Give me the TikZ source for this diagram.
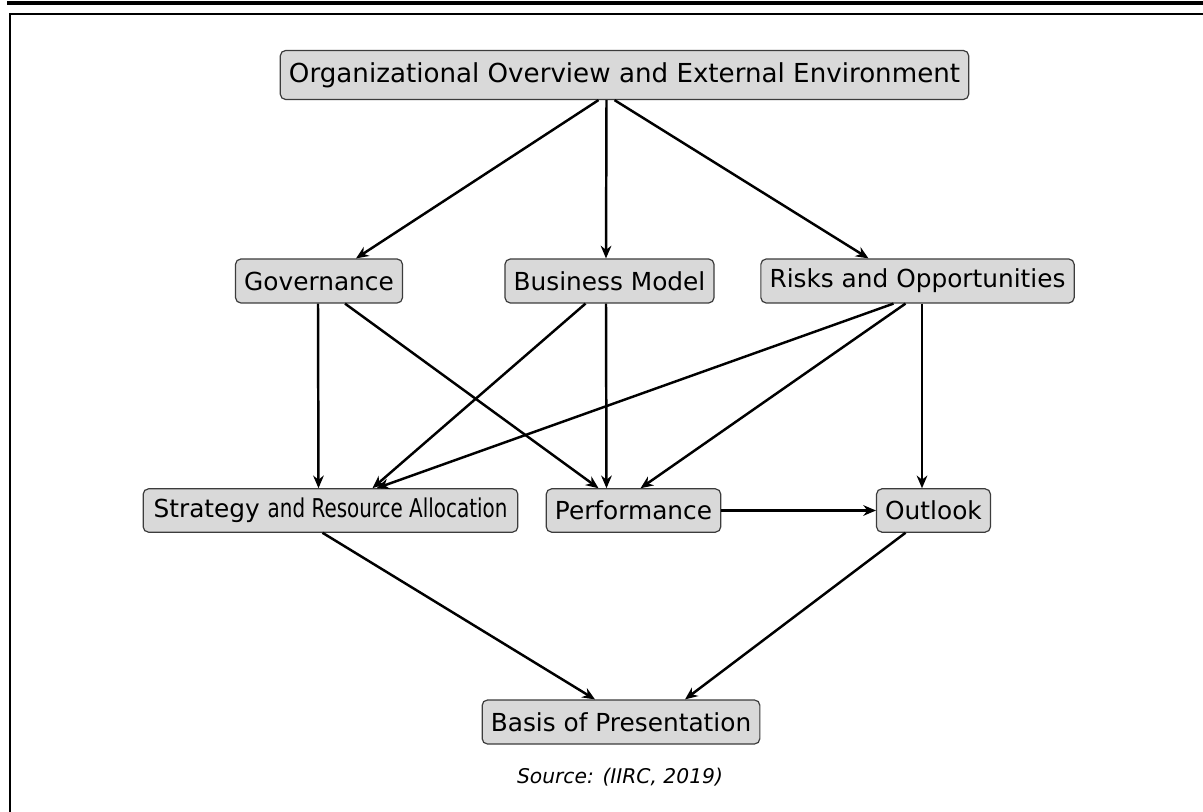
\documentclass[tikz,border=0pt]{standalone}
\usepackage{fontspec}
\setmainfont{DejaVu Sans}
\newfontfamily\condfont{DejaVu Sans}[FakeStretch=0.77]
\usetikzlibrary{arrows.meta,calc}

\definecolor{boxfill}{RGB}{217,217,217}
\definecolor{boxline}{RGB}{60,60,60}

\tikzset{
  topic/.style={draw=boxline, line width=0.9pt, fill=boxfill, rounded corners=4pt,
    inner xsep=6.5pt, inner ysep=0pt, minimum height=33pt, font=\fontsize{18.6}{22}\selectfont},
  arr/.style={line width=1.85pt, -{Stealth[length=9.5pt,width=8pt]}},
  frame/.style={line width=1.6pt, line cap=rect}
}

\begin{document}
\begin{tikzpicture}[x=0.75pt,y=-0.75pt]
  \useasboundingbox (0,0) rectangle (1203,812);
  \fill[white] (0,0) rectangle (1203,812);

  % page rules
  \fill[black] (7,1) rectangle (1203,5);
  \draw[frame] (1203,14) -- (10,14) -- (10,812);

  % topic boxes
  \node[topic, minimum height=36.75pt, font=\fontsize{19.6}{23}\selectfont] (org) at (624.5,75)
    {Organizational Overview and External Environment};
  \node[topic] (gov) at (319,281) {Governance};
  \node[topic] (bm)  at (609.5,281) {Business Model};
  \node[topic] (risk) at (917.5,281) {Risks and Opportunities};
  \node[topic, minimum height=32.5pt, minimum width=281pt, inner xsep=4pt] (strat) at (330.5,510.5)
    {Strategy {\condfont\fontsize{19.4}{22}\selectfont and Resource Allocation}};
  \node[topic, minimum height=32.5pt] (perf) at (633.5,510.5) {Performance};
  \node[topic, minimum height=32.5pt] (out) at (933.5,510.5) {Outlook};
  \node[topic] (basis) at (621,722) {Basis of Presentation};

  \node[font=\itshape\fontsize{15.2}{18}\selectfont] (src) at (620,777) {Source: (IIRC, 2019)};

  % connectors
  \draw[arr] ($(org.south)+(-26,0)$) -- ($(gov.north)+(37,0)$);
  \draw[arr] ($(org.south)+(-18,0)$) -- ($(bm.north)+(-3.5,0)$);
  \draw[arr] ($(org.south)+(-10,0)$) -- ($(risk.north)+(-49,0)$);

  \draw[arr] ($(gov.south)+(-1,0)$) -- ($(strat.north)+(-12,0)$);
  \draw[arr] ($(gov.south)+(26,0)$) -- ($(perf.north)+(-35,0)$);

  \draw[arr] ($(bm.south)+(-24,0)$) -- ($(strat.north)+(42,0)$);
  \draw[arr] ($(bm.south)+(-3.5,0)$) -- ($(perf.north)+(-27,0)$);

  \draw[arr] ($(risk.south)+(-24,0)$) -- ($(strat.north)+(46,0)$);
  \draw[arr] ($(risk.south)+(-12,0)$) -- ($(perf.north)+(7,0)$);
  \draw[arr] ($(risk.south)+(4.5,0)$) -- ($(out.north)+(-11.5,0)$);

  \draw[arr] (perf.east) -- (out.west);

  \draw[arr] ($(strat.south)+(-8,0)$) -- ($(basis.north)+(-26,0)$);
  \draw[arr] ($(out.south)+(-28,0)$) -- ($(basis.north)+(64,0)$);
\end{tikzpicture}
\end{document}
